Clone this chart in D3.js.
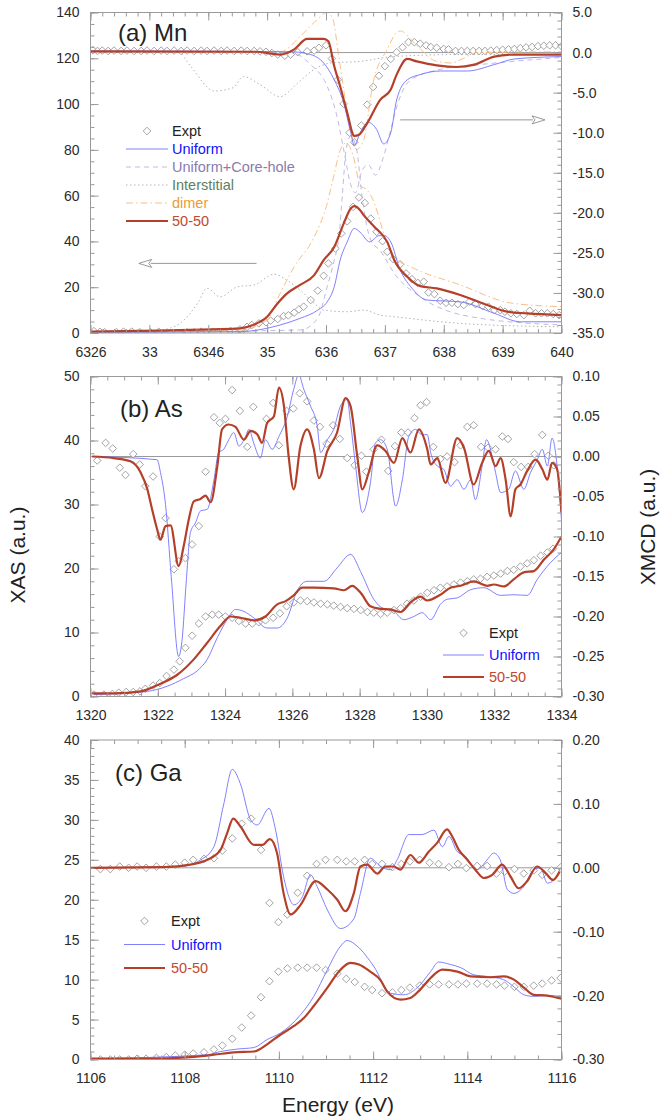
<!DOCTYPE html>
<html>
<head>
<meta charset="utf-8">
<script src="https://cdn.jsdelivr.net/npm/d3@7"></script>
<style>
  body { margin: 0; background: #fff; }
  text { font-family: "Liberation Sans", Arial, Helvetica, sans-serif; }
</style>
</head>
<body>
<svg id="chart" width="669" height="1119"></svg>
<script>
// ---------- tick labels ----------
const mnXTicks = [6326, 6331, 6336, 6341, 6346, 6351, 6356, 6361, 6366];
const mnXLabels = ["6326", "33", "6346", "35", "636", "637", "638", "639", "640"];
const mnLeftTicks = [0, 20, 40, 60, 80, 100, 120, 140];
const mnRightTicks = [-35, -30, -25, -20, -15, -10, -5, 0, 5];
const asXTicks = [1320, 1322, 1324, 1326, 1328, 1330, 1332, 1334];
const asLeftTicks = [0, 10, 20, 30, 40, 50];
const asRightTicks = [-0.30, -0.25, -0.20, -0.15, -0.10, -0.05, 0.00, 0.05, 0.10];
const gaXTicks = [1106, 1108, 1110, 1112, 1114, 1116];
const gaLeftTicks = [0, 5, 10, 15, 20, 25, 30, 35, 40];
const gaRightTicks = [-0.30, -0.20, -0.10, 0.00, 0.10, 0.20];

// ---------- (a) Mn : [energy, value] ----------
const mnExptXas = [[6326.3,0.8],[6326.8,0.5],[6327.2,0.3],[6328.2,0.4],[6328.8,0.6],[6329.5,0.6],[6330.2,0.3],[6331.1,0.3],[6331.8,0.5],[6334.2,0.3],[6334.8,0.3],[6335.4,0.6],[6336.4,0.5],[6336.8,0.3],[6337.4,0.3],[6337.9,0.9],[6338.3,0.6],[6338.7,1.6],[6339.3,2.7],[6339.7,3.5],[6340.3,4.2],[6340.9,4.7],[6341.3,5.4],[6341.9,6.1],[6342.4,7.4],[6342.8,7.7],[6343.3,8.9],[6343.7,10.3],[6344.1,11.5],[6344.7,14.4],[6345.3,18.5],[6345.8,25],[6346.2,30.4],[6346.8,36.9],[6347.3,43.5],[6347.8,48.8],[6348.3,55.1],[6348.8,59.2],[6349.3,56.8],[6349.8,50],[6350.3,44.2],[6350.8,40.1],[6351.2,35.5],[6351.7,32.3],[6352.3,30],[6352.8,26],[6353.3,23.5],[6353.8,21.9],[6354.3,22.4],[6354.7,17.7],[6355.2,17],[6355.7,14.1],[6356.2,13.2],[6356.7,13.2],[6357.2,12.6],[6357.7,12.2],[6358.2,13.7],[6358.7,12.6],[6359.3,11.8],[6359.8,11.5],[6360.3,10],[6360.8,10],[6361.2,9.3],[6361.7,8.6],[6362.2,8.3],[6362.8,7.8],[6363.3,9.7],[6363.8,8.6],[6364.3,8.6],[6364.8,8.6],[6365.3,8.3],[6365.8,7.8]];
const mnExptXmcd = [[6326.2,0.3],[6326.6,0.2],[6327.0,0.25],[6327.5,0.2],[6328.0,0.25],[6328.6,0.2],[6329.1,0.25],[6329.7,0.2],[6330.3,0.2],[6330.8,0.25],[6331.4,0.2],[6332.0,0.25],[6332.5,0.2],[6333.1,0.25],[6333.7,0.2],[6334.2,0.25],[6334.8,0.2],[6335.4,0.25],[6335.9,0.2],[6336.5,0.25],[6337.1,0.2],[6337.6,0.25],[6338.2,0.2],[6338.8,0.25],[6339.3,0.2],[6339.9,0.2],[6340.4,0.15],[6340.9,0.1],[6341.4,-0.05],[6341.9,-0.25],[6342.5,-0.4],[6343.0,-0.25],[6343.6,0.05],[6344.4,0.15],[6345.0,0.25],[6345.4,0.6],[6346.0,0.9],[6346.5,-0.75],[6347.0,-3.4],[6347.5,-6.4],[6348.0,-10],[6348.4,-11.2],[6349.0,-9.1],[6349.5,-6.5],[6350.0,-4.3],[6350.5,-2.9],[6351.0,-1.7],[6351.5,-0.8],[6352.0,0.04],[6352.5,0.66],[6353.0,1.3],[6353.5,1.3],[6354.0,1.1],[6354.5,0.9],[6354.9,0.7],[6355.4,0.6],[6356.0,0.45],[6356.4,0.4],[6357.0,0.2],[6357.5,0.2],[6358.0,0.2],[6358.5,0.2],[6359.0,0.2],[6359.5,0.2],[6360.0,0.25],[6360.5,0.3],[6361.0,0.35],[6361.5,0.4],[6362.0,0.45],[6362.5,0.55],[6363.0,0.65],[6363.5,0.7],[6364.0,0.8],[6364.5,0.85],[6365.0,0.9],[6365.5,0.9],[6366.0,0.8]];
const mnUniXas = [[6326,0.3],[6338.7,0.6],[6342.1,3.5],[6343.8,6.4],[6345.3,10],[6346.1,13.6],[6346.7,20.2],[6347.2,31.8],[6347.8,39.8],[6348.4,45.7],[6348.9,44],[6349.7,39.8],[6350.5,42.5],[6351.0,42.5],[6351.5,39.8],[6352.3,27.5],[6353.2,20.2],[6354.6,14.4],[6357.4,13.6],[6360.3,8.6],[6362.5,4.9],[6366,4.9]];
const mnCoreXas = [[6326,0.3],[6343.8,1.3],[6345.3,6.5],[6346.1,20.2],[6346.7,31.8],[6347.1,42],[6347.4,61],[6347.7,79.8],[6348.1,86],[6348.6,80],[6349.1,58],[6349.8,40.6],[6350.6,36],[6351.9,25.3],[6354.0,15.8],[6358.3,7.1],[6366,3.5]];
const mnIntXas = [[6326,0.3],[6330.8,0.6],[6332.8,2.2],[6333.6,4.2],[6335.1,13],[6335.9,19.5],[6337.0,15.8],[6338.5,20.2],[6339.9,21],[6341.6,25.7],[6342.7,23],[6343.8,18.8],[6345.0,13],[6345.8,10],[6347.8,9.3],[6349.2,10],[6350.6,7.8],[6351.8,7.1],[6357.4,4.2],[6366,2.7]];
const mnDimerXas = [[6326,0.3],[6338.7,1.3],[6341.0,5.7],[6342.1,17.3],[6343.3,28.9],[6345.0,42],[6346.1,56.6],[6346.7,69.6],[6347.2,79.8],[6347.7,83],[6348.3,77.6],[6348.9,64.5],[6349.5,62.4],[6350.0,58],[6351.1,40.6],[6351.9,32.7],[6353.2,28.9],[6357.4,21],[6361.7,13.1],[6366,11.5]];
const mn50Xas = [[6326,0.6],[6331.7,1],[6336.4,1.6],[6338.7,2],[6339.8,3.5],[6341.0,7.1],[6341.9,13],[6342.7,17.3],[6343.8,21],[6345.0,25.3],[6345.8,31.8],[6346.7,37.6],[6347.5,47.8],[6348.1,54.4],[6348.4,55.4],[6348.9,53.6],[6349.2,51.5],[6350.1,46.4],[6351.2,39.8],[6351.8,31.8],[6352.9,24.6],[6354.0,20.5],[6355.4,19.5],[6357.4,16.6],[6359.7,12.2],[6361.4,9.3],[6363.1,8.6],[6366,7.8]];
const mnUniXmcd = [[6326,0.2],[6343.0,0.1],[6344.7,-0.25],[6345.8,-1.3],[6346.7,-3.4],[6347.5,-6.3],[6348.1,-10],[6348.4,-11.6],[6348.9,-10],[6349.6,-8.7],[6350.3,-9.6],[6350.9,-11.4],[6351.5,-10],[6352.0,-5.9],[6352.9,-3.4],[6354.0,-2.75],[6355.7,-2.3],[6358.0,-2.3],[6360.3,-1.5],[6362.0,-0.8],[6366,-0.5]];
const mnCoreXmcd = [[6326,0.1],[6343.0,0],[6344.7,-1.5],[6346.1,-4.2],[6346.9,-7.75],[6347.5,-12.1],[6348.1,-16.5],[6348.5,-17.5],[6349.1,-14.6],[6349.6,-14],[6350.2,-15.3],[6350.8,-13.4],[6351.5,-9.6],[6352.2,-5.9],[6353.2,-3.4],[6355.7,-2.1],[6359.1,-1.5],[6366,-0.6]];
const mnIntXmcd = [[6326,0.1],[6333.4,0.1],[6334.5,-1.7],[6336.5,-4.8],[6338.1,-4.4],[6339.0,-3],[6340.4,-4],[6342.1,-5.5],[6343.6,-3.8],[6345.0,-2.1],[6346.4,-1.3],[6348.9,-1.1],[6351.7,-0.5],[6357.4,-0.25],[6366,-0.25]];
const mnDimerXmcd = [[6326,0.1],[6342.1,0.1],[6343.8,2],[6345.1,3.9],[6346.1,5.0],[6346.6,4.1],[6347.0,0.4],[6347.5,-4.6],[6348.1,-9.6],[6348.6,-12.1],[6349.2,-10.9],[6350.0,-3.75],[6351.2,0.4],[6352.0,2.5],[6352.3,2.7],[6353.5,1.2],[6355.4,-1.1],[6356.6,-1.3],[6357.7,-0.7],[6358.8,0],[6366,0.1]];
const mn50Xmcd = [[6326,0.15],[6340,0.1],[6342.1,-0.25],[6343.3,0.4],[6344.4,1.7],[6345.8,1.7],[6346.2,1.4],[6346.7,-1.7],[6347.2,-4.2],[6347.8,-7.5],[6348.4,-10.4],[6348.8,-10.25],[6349.5,-8.8],[6350.6,-5.9],[6351.5,-4.6],[6352.0,-2.75],[6352.9,-0.8],[6353.7,-1.1],[6355.4,-1.6],[6357.1,-1.8],[6358.6,-1.5],[6360.3,-0.5],[6362.0,-0.25],[6366,-0.25]];

// ---------- (b) As ----------
const asExptXas = [[1320.1,0.3],[1320.4,0.3],[1320.65,0.4],[1320.84,0.6],[1321.06,0.7],[1321.27,0.7],[1321.47,0.8],[1321.63,1.2],[1321.86,1.7],[1322.06,2.1],[1322.26,3.2],[1322.48,4.2],[1322.65,5.5],[1322.82,7.6],[1323.02,9.5],[1323.22,11.4],[1323.42,12.5],[1323.62,12.8],[1323.81,12.8],[1324.01,12.5],[1324.21,12.3],[1324.41,11.8],[1324.61,11.4],[1324.81,11.4],[1325.0,11.6],[1325.2,11.9],[1325.43,12.3],[1325.63,13],[1325.83,14.1],[1326.04,14.7],[1326.24,15],[1326.44,14.9],[1326.64,14.7],[1326.84,14.5],[1327.04,14.4],[1327.23,14.2],[1327.43,14],[1327.63,13.8],[1327.83,13.7],[1328.03,13.5],[1328.23,13.2],[1328.42,13.1],[1328.62,12.9],[1328.82,13.1],[1329.02,13.5],[1329.22,13.8],[1329.41,14.5],[1329.61,15],[1329.81,15.6],[1330.01,16.2],[1330.21,16.6],[1330.4,17],[1330.6,17.2],[1330.8,17.5],[1331.0,17.8],[1331.2,18],[1331.39,18.3],[1331.59,18.4],[1331.79,18.7],[1331.99,18.9],[1332.19,19.2],[1332.39,19.6],[1332.58,19.8],[1332.78,20.3],[1332.98,20.8],[1333.18,21.3],[1333.38,22],[1333.58,22.5],[1333.75,23.1]];
const asUniXas = [[1320.1,0.3],[1321.69,0.8],[1322.28,1.6],[1322.77,2.8],[1323.17,4],[1323.47,5.8],[1323.77,9.2],[1324.06,12],[1324.31,13.6],[1324.56,13.3],[1324.85,12.3],[1325.25,10.7],[1325.55,10.7],[1325.85,12.3],[1326.14,16.5],[1326.44,18],[1326.94,18],[1327.33,20.1],[1327.73,22.2],[1328.03,19.5],[1328.42,15.2],[1328.62,14],[1329.02,13.3],[1329.31,12],[1329.61,12.5],[1329.86,13.1],[1330.11,12],[1330.4,14.4],[1330.6,15.2],[1330.9,15.4],[1331.3,16.7],[1331.69,17],[1332.19,15.8],[1332.58,15.9],[1332.98,15.8],[1333.28,18.3],[1333.67,20.9],[1334,22.5]];
const as50Xas = [[1320.05,0.5],[1320.69,0.5],[1321.49,0.8],[1322.08,2],[1322.58,3.4],[1323.07,5.8],[1323.47,8.4],[1323.86,11],[1324.16,12.5],[1324.46,12.3],[1324.85,11.9],[1325.2,12.5],[1325.55,14.4],[1325.8,14.9],[1326.04,15.8],[1326.29,17],[1326.64,17],[1327.23,16.9],[1327.53,16.6],[1327.78,17.3],[1328.03,16.2],[1328.32,14.1],[1328.62,13.7],[1328.92,13.6],[1329.22,13.2],[1329.51,14.7],[1329.81,15.6],[1330.01,15],[1330.4,15.9],[1330.7,17],[1331.0,17.3],[1331.39,18],[1331.79,17.3],[1331.99,17.5],[1332.29,17.2],[1332.58,18.3],[1332.88,19.4],[1333.18,19.6],[1333.48,21.4],[1333.77,23],[1334,25]];
const asExptXmcd = [[1320.2,-0.005],[1320.45,0.017],[1320.66,0.01],[1320.87,-0.014],[1321.04,-0.023],[1321.27,0.003],[1321.46,-0.01],[1321.63,-0.037],[1321.86,-0.025],[1322.06,-0.1],[1322.23,-0.077],[1322.48,-0.141],[1322.62,-0.131],[1322.82,-0.127],[1323.02,-0.11],[1323.22,-0.087],[1323.42,-0.019],[1323.67,0.049],[1323.84,0.042],[1324.01,0.047],[1324.21,0.083],[1324.44,0.057],[1324.66,0.012],[1324.84,0.062],[1325.23,0.047],[1325.43,0.067],[1325.6,0.014],[1325.83,0.057],[1326.03,0.06],[1326.22,0.079],[1326.44,0.069],[1326.64,0.045],[1326.82,0.037],[1327.02,0.016],[1327.21,0.039],[1327.41,0.022],[1327.63,-0.002],[1327.85,-0.011],[1328.05,0.001],[1328.2,-0.019],[1328.42,0.009],[1328.65,0.021],[1328.85,-0.018],[1329.05,0.013],[1329.24,0.03],[1329.44,0.03],[1329.63,0.048],[1329.81,0.064],[1329.99,0.068],[1330.19,0.012],[1330.4,-0.003],[1330.6,0],[1330.82,-0.007],[1331.0,0.014],[1331.2,0.037],[1331.39,0.039],[1331.61,0.012],[1331.82,0.011],[1332.04,0.009],[1332.24,0.025],[1332.41,0.022],[1332.58,-0.007],[1332.8,-0.013],[1333.01,-0.013],[1333.2,0.003],[1333.43,0.027],[1333.61,0.001],[1333.77,-0.011]];
const asUniXmcd = [[1320.05,0],[1321.98,-0.004],[1322.08,-0.02],[1322.23,-0.06],[1322.4,-0.15],[1322.62,-0.25],[1322.72,-0.23],[1322.85,-0.154],[1322.97,-0.095],[1323.12,-0.083],[1323.27,-0.068],[1323.47,-0.066],[1323.67,-0.029],[1323.81,0.005],[1323.96,0.009],[1324.11,0.021],[1324.26,0.03],[1324.41,0.013],[1324.61,0.025],[1324.71,0.034],[1324.85,0.017],[1325.05,-0.002],[1325.2,0.021],[1325.4,0.009],[1325.6,0.025],[1325.85,0.05],[1326.04,0.084],[1326.19,0.102],[1326.34,0.084],[1326.54,0.063],[1326.74,0.038],[1326.84,0.005],[1327.04,0.021],[1327.23,0.034],[1327.43,0.063],[1327.63,0.071],[1327.73,0.042],[1327.88,-0.012],[1328.08,-0.07],[1328.32,-0.033],[1328.47,0.017],[1328.62,0.021],[1328.82,0.009],[1329.07,-0.062],[1329.27,-0.029],[1329.46,0.025],[1329.66,0.034],[1329.85,0.027],[1330.01,0.0275],[1330.11,0.005],[1330.31,-0.012],[1330.5,-0.016],[1330.7,-0.037],[1330.9,-0.029],[1331.1,-0.041],[1331.3,-0.029],[1331.44,-0.054],[1331.64,-0.012],[1331.77,0.021],[1331.94,0],[1332.04,-0.02],[1332.19,-0.045],[1332.43,-0.041],[1332.63,-0.018],[1332.88,-0.041],[1333.08,-0.02],[1333.28,-0.004],[1333.43,0.009],[1333.58,-0.012],[1333.72,0.023],[1333.87,-0.012],[1334,-0.08]];
const as50Xmcd = [[1320.05,0],[1320.69,-0.002],[1321.19,-0.006],[1321.49,-0.02],[1321.69,-0.041],[1321.83,-0.066],[1321.98,-0.091],[1322.08,-0.104],[1322.23,-0.087],[1322.38,-0.086],[1322.62,-0.137],[1322.77,-0.112],[1322.92,-0.079],[1323.07,-0.056],[1323.27,-0.053],[1323.42,-0.049],[1323.57,-0.057],[1323.77,-0.012],[1323.91,0.034],[1324.11,0.04],[1324.31,0.037],[1324.56,0.021],[1324.76,0.032],[1324.96,0.0275],[1325.1,0.017],[1325.25,0.042],[1325.45,0.05],[1325.6,0.086],[1325.75,0.063],[1325.89,0],[1326.04,-0.041],[1326.24,0.013],[1326.44,0.034],[1326.64,0.009],[1326.79,-0.027],[1327.04,0.007],[1327.33,0.03],[1327.58,0.073],[1327.73,0.063],[1327.93,0],[1328.08,-0.041],[1328.27,-0.02],[1328.52,0.014],[1328.77,0.007],[1329.02,-0.008],[1329.27,0.023],[1329.51,0.005],[1329.76,0.034],[1330.01,0.009],[1330.11,-0.01],[1330.31,-0.002],[1330.55,-0.033],[1330.9,0.023],[1331.1,0.011],[1331.39,-0.035],[1331.64,-0.008],[1331.84,0.007],[1332.04,-0.012],[1332.19,-0.002],[1332.34,-0.029],[1332.49,-0.075],[1332.63,-0.041],[1332.78,-0.035],[1332.98,-0.018],[1333.23,-0.004],[1333.43,-0.016],[1333.58,-0.029],[1333.72,-0.008],[1333.87,-0.016],[1334,-0.07]];

// ---------- (c) Ga ----------
const gaExptXas = [[1106.21,0],[1106.42,0],[1106.62,0],[1106.81,0],[1106.99,0.1],[1107.18,0.1],[1107.4,0.2],[1107.61,0.3],[1107.8,0.5],[1108.0,0.6],[1108.18,0.75],[1108.41,0.9],[1108.62,1.25],[1108.8,1.75],[1109.01,2.6],[1109.21,4],[1109.41,5.5],[1109.62,7.8],[1109.8,9.8],[1109.99,11],[1110.18,11.4],[1110.4,11.5],[1110.6,11.5],[1110.8,11.5],[1110.99,11.2],[1111.24,10.75],[1111.43,10.1],[1111.61,9.7],[1111.82,9.1],[1111.98,8.7],[1112.19,8.3],[1112.41,8.4],[1112.6,8.7],[1112.78,9],[1112.99,9.25],[1113.2,9.4],[1113.39,9.4],[1113.61,9.4],[1113.8,9.4],[1113.98,9.5],[1114.21,9.5],[1114.42,9.5],[1114.62,9.4],[1114.79,9.25],[1115.0,9.1],[1115.2,9.1],[1115.41,9.25],[1115.59,9.5],[1115.79,9.9],[1115.98,10.2]];
const gaUniXas = [[1106,0.1],[1108.48,0.6],[1108.76,1],[1109.11,1.3],[1109.47,1.5],[1109.75,2.5],[1110.03,3.3],[1110.46,5.6],[1110.74,7.9],[1111.03,11.25],[1111.31,14.2],[1111.45,14.9],[1111.66,14.2],[1112.01,11.7],[1112.37,8.3],[1112.65,8.1],[1112.94,9],[1113.22,11],[1113.39,12.2],[1113.64,11.9],[1113.86,11.5],[1114.14,10.6],[1114.42,10.4],[1114.77,10],[1114.99,9.1],[1115.2,8.1],[1115.41,7.9],[1115.7,8],[1116,7.8]];
const ga50Xas = [[1106,0.1],[1107.2,0.1],[1108.12,0.3],[1108.62,0.6],[1109.04,0.9],[1109.47,1],[1109.75,1.9],[1110.03,3.1],[1110.32,4.2],[1110.53,5.2],[1110.74,6.7],[1111.03,9],[1111.27,11],[1111.52,12.1],[1111.7,11.9],[1111.94,11],[1112.16,9.9],[1112.3,8.5],[1112.58,7.5],[1112.79,7.7],[1113.0,8.75],[1113.22,10.2],[1113.47,11.25],[1113.79,11],[1114.07,10.4],[1114.49,10.3],[1114.77,10.4],[1114.99,10],[1115.2,9],[1115.41,8.1],[1115.7,8],[1116,7.6]];
const gaExptXmcd = [[1106.21,-0.002],[1106.42,-0.002],[1106.62,0.002],[1106.81,0],[1106.99,0.002],[1107.18,0],[1107.4,0.002],[1107.61,0.002],[1107.8,0.005],[1108.0,0.008],[1108.18,0.0125],[1108.41,0.014],[1108.62,0.015],[1108.8,0.027],[1109.01,0.046],[1109.21,0.069],[1109.41,0.077],[1109.62,0.028],[1109.8,-0.055],[1109.99,-0.085],[1110.18,-0.073],[1110.4,-0.039],[1110.6,-0.0125],[1110.8,0.006],[1110.99,0.0125],[1111.24,0.0125],[1111.43,0.01],[1111.61,0.01],[1111.82,0.0125],[1111.98,0.006],[1112.19,0.006],[1112.41,0.001],[1112.6,0.006],[1112.78,0.01],[1112.99,0.0125],[1113.2,0.008],[1113.39,0.006],[1113.61,0.001],[1113.8,0.006],[1113.98,-0.0005],[1114.21,0.003],[1114.42,0.003],[1114.62,-0.009],[1114.79,-0.006],[1115.0,-0.002],[1115.2,-0.009],[1115.41,-0.004],[1115.59,-0.011],[1115.79,-0.004],[1115.98,0.0005]];
const gaUniXmcd = [[1106,0],[1107.91,0.002],[1108.34,0.0125],[1108.62,0.033],[1108.83,0.1],[1109.01,0.154],[1109.18,0.132],[1109.4,0.075],[1109.54,0.067],[1109.79,0.093],[1109.93,0.059],[1110.1,-0.014],[1110.32,-0.058],[1110.5,-0.045],[1110.67,-0.011],[1110.81,-0.029],[1111.03,-0.066],[1111.31,-0.095],[1111.59,-0.08],[1111.73,-0.04],[1111.94,0.015],[1112.16,0.002],[1112.37,-0.003],[1112.51,0.0125],[1112.76,0.052],[1113.04,0.052],[1113.29,0.059],[1113.47,0.033],[1113.61,0.049],[1113.79,0.025],[1113.93,0.02],[1114.21,-0.003],[1114.42,0.0125],[1114.56,0.023],[1114.7,0.0125],[1114.85,-0.034],[1114.99,-0.04],[1115.17,-0.032],[1115.41,-0.003],[1115.55,0],[1115.7,-0.024],[1115.84,-0.019],[1115.98,0]];
const ga50Xmcd = [[1106,0],[1107.56,0.001],[1108.12,0.005],[1108.48,0.0125],[1108.76,0.028],[1108.9,0.054],[1109.03,0.077],[1109.18,0.065],[1109.47,0.036],[1109.65,0.036],[1109.81,0.045],[1109.96,0.023],[1110.1,-0.04],[1110.25,-0.073],[1110.46,-0.058],[1110.78,-0.021],[1111.03,-0.034],[1111.24,-0.05],[1111.41,-0.068],[1111.59,-0.04],[1111.73,0.002],[1111.87,0.005],[1112.09,-0.009],[1112.26,0.002],[1112.44,0.002],[1112.58,-0.003],[1112.79,0.02],[1112.97,0.008],[1113.18,0.025],[1113.36,0.039],[1113.57,0.06],[1113.68,0.049],[1113.82,0.028],[1114.0,0.0125],[1114.17,-0.003],[1114.35,-0.016],[1114.53,-0.011],[1114.74,0.005],[1114.92,-0.014],[1115.09,-0.032],[1115.27,-0.021],[1115.48,0.002],[1115.66,-0.008],[1115.82,-0.019],[1115.96,-0.006]];

// arrows in (a): [x1, y1, x2(tip), y2] in data units, axis
const mnArrows = [
  { axis: "R", from: [6352.3, -8.4], to: [6364.6, -8.4] },
  { axis: "L", from: [6340.1, 30.4], to: [6330.1, 30.4] }
];

// ---------- styles ----------
const FONT = '"Liberation Sans", Arial, Helvetica, sans-serif';
const AXIS_GRAY = "#9a9a9a";
const styles = {
  uniform:      { stroke: "#7272ff", width: 0.9, dash: null },
  corehole:     { stroke: "#b9b1dc", width: 0.9, dash: "5,4" },
  interstitial: { stroke: "#b4b4b4", width: 1.0, dash: "1.5,2.5" },
  dimer:        { stroke: "#f7b878", width: 0.9, dash: "7,3,1.5,3" },
  fifty:        { stroke: "#b5402a", width: 2.2, dash: null }
};
const labelColors = {
  expt: "#222", uniform: "#1010ff", corehole: "#8a7cae",
  interstitial: "#5d7f62", dimer: "#eb9a3c", fifty: "#c2482f"
};

const L = 90.5, R = 561.5;
const svg = d3.select("#chart");
const diamond = "M0,-3.8L3.8,0L0,3.8L-3.8,0Z";

const panels = [
  {
    id: "a", top: 12.5, bottom: 333, xDomain: [6326, 6366], yLDomain: [0, 140], yRDomain: [-35, 5],
    xTicks: mnXTicks, xLabels: mnXLabels, xMinor: 1,
    yLTicks: mnLeftTicks, yLMinor: 5, yRTicks: mnRightTicks, yRMinor: 1, rDigits: 1,
    title: "(a) Mn", titlePos: [118, 41],
    series: [
      { d: mnIntXas, axis: "L", s: "interstitial" }, { d: mnIntXmcd, axis: "R", s: "interstitial" },
      { d: mnDimerXas, axis: "L", s: "dimer" }, { d: mnDimerXmcd, axis: "R", s: "dimer" },
      { d: mnCoreXas, axis: "L", s: "corehole" }, { d: mnCoreXmcd, axis: "R", s: "corehole" },
      { d: mnUniXas, axis: "L", s: "uniform" }, { d: mnUniXmcd, axis: "R", s: "uniform" },
      { d: mn50Xas, axis: "L", s: "fifty" }, { d: mn50Xmcd, axis: "R", s: "fifty" }
    ],
    expt: [{ d: mnExptXas, axis: "L" }, { d: mnExptXmcd, axis: "R" }],
    legend: { x: 126, y: 131, step: 18, lineLen: 42, textX: 172,
      items: [["expt", "Expt"], ["uniform", "Uniform"], ["corehole", "Uniform+Core-hole"],
              ["interstitial", "Interstitial"], ["dimer", "dimer"], ["fifty", "50-50"]] },
    arrows: mnArrows
  },
  {
    id: "b", top: 376.5, bottom: 696.5, xDomain: [1320, 1334], yLDomain: [0, 50], yRDomain: [-0.30, 0.10],
    xTicks: asXTicks, xLabels: asXTicks.map(String), xMinor: 0.5,
    yLTicks: asLeftTicks, yLMinor: 2, yRTicks: asRightTicks, yRMinor: 0.01, rDigits: 2,
    title: "(b) As", titlePos: [120, 417],
    series: [
      { d: asUniXas, axis: "L", s: "uniform" }, { d: asUniXmcd, axis: "R", s: "uniform" },
      { d: as50Xas, axis: "L", s: "fifty" }, { d: as50Xmcd, axis: "R", s: "fifty" }
    ],
    expt: [{ d: asExptXas, axis: "L" }, { d: asExptXmcd, axis: "R" }],
    legend: { x: 443, y: 633, step: 22, lineLen: 41, textX: 489,
      items: [["expt", "Expt"], ["uniform", "Uniform"], ["fifty", "50-50"]] },
    arrows: []
  },
  {
    id: "c", top: 740, bottom: 1059.5, xDomain: [1106, 1116], yLDomain: [0, 40], yRDomain: [-0.30, 0.20],
    xTicks: gaXTicks, xLabels: gaXTicks.map(String), xMinor: 0.5,
    yLTicks: gaLeftTicks, yLMinor: 1, yRTicks: gaRightTicks, yRMinor: 0.02, rDigits: 2,
    title: "(c) Ga", titlePos: [115, 781],
    series: [
      { d: gaUniXas, axis: "L", s: "uniform" }, { d: gaUniXmcd, axis: "R", s: "uniform" },
      { d: ga50Xas, axis: "L", s: "fifty" }, { d: ga50Xmcd, axis: "R", s: "fifty" }
    ],
    expt: [{ d: gaExptXas, axis: "L" }, { d: gaExptXmcd, axis: "R" }],
    legend: { x: 124, y: 921, step: 23.5, lineLen: 41, textX: 171,
      items: [["expt", "Expt"], ["uniform", "Uniform"], ["fifty", "50-50"]] },
    arrows: []
  }
];

function minorRange(domain, step) {
  const n = Math.round((domain[1] - domain[0]) / step);
  return d3.range(n + 1).map(i => domain[0] + i * step);
}

function styleAxis(sel) {
  sel.select(".domain").remove();
  sel.attr("font-family", FONT).attr("font-size", 14);
  sel.selectAll("line").attr("stroke", AXIS_GRAY).attr("stroke-width", 1);
  sel.selectAll("text").attr("fill", "#2a2a2a");
}

panels.forEach(p => {
  const x = d3.scaleLinear().domain(p.xDomain).range([L, R]);
  const yL = d3.scaleLinear().domain(p.yLDomain).range([p.bottom, p.top]);
  const yR = d3.scaleLinear().domain(p.yRDomain).range([p.bottom, p.top]);
  const ys = { L: yL, R: yR };
  const g = svg.append("g").attr("class", "panel-" + p.id);

  const clipId = "clip-" + p.id;
  svg.append("clipPath").attr("id", clipId)
    .append("rect").attr("x", L).attr("y", p.top).attr("width", R - L).attr("height", p.bottom - p.top);

  // zero line of XMCD
  g.append("line")
    .attr("x1", L).attr("x2", R).attr("y1", yR(0)).attr("y2", yR(0))
    .attr("stroke", AXIS_GRAY).attr("stroke-width", 1);

  const plot = g.append("g").attr("clip-path", `url(#${clipId})`);

  // experiment markers
  p.expt.forEach(e => {
    plot.append("g").selectAll("path")
      .data(e.d)
      .join("path")
      .attr("d", diamond)
      .attr("transform", d => `translate(${x(d[0])},${ys[e.axis](d[1])})`)
      .attr("fill", "#fff").attr("stroke", "#8c8c8c").attr("stroke-width", 0.8);
  });

  // theory curves
  p.series.forEach(s => {
    const st = styles[s.s];
    const line = d3.line()
      .x(d => x(d[0]))
      .y(d => ys[s.axis](d[1]))
      .curve(d3.curveMonotoneX);
    plot.append("path")
      .attr("d", line(s.d))
      .attr("fill", "none")
      .attr("stroke", st.stroke)
      .attr("stroke-width", st.width)
      .attr("stroke-dasharray", st.dash)
      .attr("stroke-linejoin", "round");
  });

  // arrows
  p.arrows.forEach(a => {
    const yS = ys[a.axis];
    const x1 = x(a.from[0]), y1 = yS(a.from[1]), x2 = x(a.to[0]), y2 = yS(a.to[1]);
    const dir = Math.sign(x2 - x1);
    g.append("line").attr("x1", x1).attr("y1", y1).attr("x2", x2 - dir * 12).attr("y2", y2)
      .attr("stroke", "#8c8c8c").attr("stroke-width", 0.9);
    g.append("path")
      .attr("d", `M${x2},${y2}L${x2 - dir * 13},${y2 - 4}L${x2 - dir * 10},${y2}L${x2 - dir * 13},${y2 + 4}Z`)
      .attr("fill", "#fff").attr("stroke", "#8c8c8c").attr("stroke-width", 0.9);
  });

  // frame
  g.append("rect")
    .attr("x", L).attr("y", p.top).attr("width", R - L).attr("height", p.bottom - p.top)
    .attr("fill", "none").attr("stroke", AXIS_GRAY).attr("stroke-width", 1);

  // axes: minor ticks
  const xMinor = minorRange(p.xDomain, p.xMinor);
  const lMinor = minorRange(p.yLDomain, p.yLMinor);
  const rMinor = minorRange(p.yRDomain, p.yRMinor);
  g.append("g").attr("transform", `translate(0,${p.bottom})`)
    .call(d3.axisBottom(x).tickValues(xMinor).tickSize(-4).tickFormat("")).call(styleAxis);
  g.append("g").attr("transform", `translate(0,${p.top})`)
    .call(d3.axisTop(x).tickValues(xMinor).tickSize(-4).tickFormat("")).call(styleAxis);
  g.append("g").attr("transform", `translate(${L},0)`)
    .call(d3.axisLeft(yL).tickValues(lMinor).tickSize(-4).tickFormat("")).call(styleAxis);
  g.append("g").attr("transform", `translate(${R},0)`)
    .call(d3.axisRight(yR).tickValues(rMinor).tickSize(-4).tickFormat("")).call(styleAxis);

  // axes: major ticks + labels
  g.append("g").attr("transform", `translate(0,${p.bottom})`)
    .call(d3.axisBottom(x).tickValues(p.xTicks).tickSize(-8).tickPadding(14)
      .tickFormat((d, i) => p.xLabels[i])).call(styleAxis);
  g.append("g").attr("transform", `translate(0,${p.top})`)
    .call(d3.axisTop(x).tickValues(p.xTicks).tickSize(-8).tickFormat("")).call(styleAxis);
  g.append("g").attr("transform", `translate(${L},0)`)
    .call(d3.axisLeft(yL).tickValues(p.yLTicks).tickSize(-8).tickPadding(11)
      .tickFormat(d => String(d))).call(styleAxis);
  g.append("g").attr("transform", `translate(${R},0)`)
    .call(d3.axisRight(yR).tickValues(p.yRTicks).tickSize(-8).tickPadding(11)
      .tickFormat(d => d.toFixed(p.rDigits))).call(styleAxis);

  // panel title
  g.append("text")
    .attr("x", p.titlePos[0]).attr("y", p.titlePos[1])
    .attr("font-size", 24).attr("fill", "#222")
    .text(p.title);

  // legend
  const lg = p.legend;
  lg.items.forEach((it, i) => {
    const yy = lg.y + i * lg.step;
    if (it[0] === "expt") {
      g.append("path").attr("d", diamond)
        .attr("transform", `translate(${lg.x + lg.lineLen / 2},${yy})`)
        .attr("fill", "#fff").attr("stroke", "#8c8c8c").attr("stroke-width", 0.8);
    } else {
      const st = styles[it[0]];
      g.append("line").attr("x1", lg.x).attr("x2", lg.x + lg.lineLen).attr("y1", yy).attr("y2", yy)
        .attr("stroke", st.stroke).attr("stroke-width", st.width).attr("stroke-dasharray", st.dash);
    }
    g.append("text")
      .attr("x", lg.textX).attr("y", yy).attr("dy", "0.36em")
      .attr("font-size", 14.5).attr("fill", labelColors[it[0]])
      .text(it[1]);
  });
});

// axis titles
svg.append("text")
  .attr("transform", "translate(25,555) rotate(-90)")
  .attr("text-anchor", "middle").attr("font-size", 21).attr("fill", "#222")
  .text("XAS (a.u.)");
svg.append("text")
  .attr("transform", "translate(655,527) rotate(-90)")
  .attr("text-anchor", "middle").attr("font-size", 21).attr("fill", "#222")
  .text("XMCD (a.u.)");
svg.append("text")
  .attr("x", 338).attr("y", 1112)
  .attr("text-anchor", "middle").attr("font-size", 21).attr("fill", "#222")
  .text("Energy (eV)");
</script>
</body>
</html>
